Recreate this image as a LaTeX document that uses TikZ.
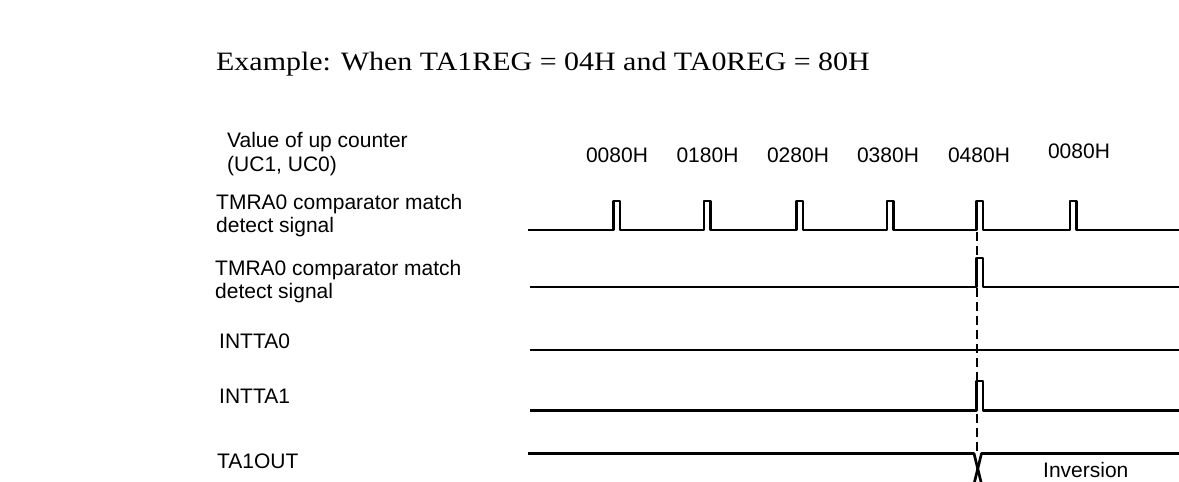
\documentclass[tikz,border=0pt]{standalone}
\usepackage{fontspec}
\newfontfamily\lblfont{Liberation Sans}
\newfontfamily\ttlfont{Liberation Serif}
\begin{document}
\begin{tikzpicture}[x=1pt,y=-1pt,
  lbl/.style={font=\lblfont\fontsize{21}{24}\selectfont, inner sep=0pt, anchor=base west},
  val/.style={font=\lblfont\fontsize{21}{24}\selectfont, inner sep=0pt, anchor=base},
  wave/.style={line width=2.7pt, line join=round},
  guide/.style={line width=2pt, dash pattern=on 9pt off 5pt}]
\useasboundingbox (0,0) rectangle (1179,482);
% title
\node[anchor=base west, inner sep=0pt, font=\ttlfont\fontsize{26.5}{30}\selectfont] (title) at (216,70)
  {\scalebox{1.13}[1]{Example: When TA1REG = 04H and TA0REG = 80H}};
% signal names
\node[lbl] (v1) at (227,147) {Value of up counter};
\node[lbl] (v2) at (227,171) {(UC1, UC0)};
\node[lbl] (m1) at (216,209) {TMRA0 comparator match};
\node[lbl] (m2) at (216,232) {detect signal};
\node[lbl] (n1) at (215,275) {TMRA0 comparator match};
\node[lbl] (n2) at (215,298) {detect signal};
\node[lbl] (i0) at (219,348) {INTTA0};
\node[lbl] (i1) at (219,403) {INTTA1};
\node[lbl] (to) at (217,468) {TA1OUT};
% counter values
\node[val] (c1) at (617,162) {0080H};
\node[val] (c2) at (707.5,162) {0180H};
\node[val] (c3) at (798,162) {0280H};
\node[val] (c4) at (888,162) {0380H};
\node[val] (c5) at (979,162) {0480H};
\node[val] (c6) at (1079,158) {0080H};
\node[lbl] (inv) at (1043,477) {Inversion};
% waveforms
\draw[wave] (528,230) foreach \p in {613.5,704,796.5,887,976.5,1070}{ -- (\p,230) -- (\p,201) -- (\p+6.5,201) -- (\p+6.5,230)} -- (1179,230);
\draw[wave] (530,287) -- (976.5,287) -- (976.5,258) -- (983,258) -- (983,287) -- (1179,287);
\draw[wave] (530,350) -- (1179,350);
\draw[wave] (530,410.5) -- (976.5,410.5) -- (976.5,381) -- (983,381) -- (983,410.5) -- (1179,410.5);
\draw[wave] (528,453.5) -- (974,453.5) -- (981.5,484);
\draw[wave] (1179,453.5) -- (981.5,453.5) -- (974,484);
% guide line
\coordinate (gtop) at (976.5,232);
\coordinate (gbot) at (976.5,453);
\draw[guide] (gtop) -- (gbot);
\end{tikzpicture}
\end{document}
